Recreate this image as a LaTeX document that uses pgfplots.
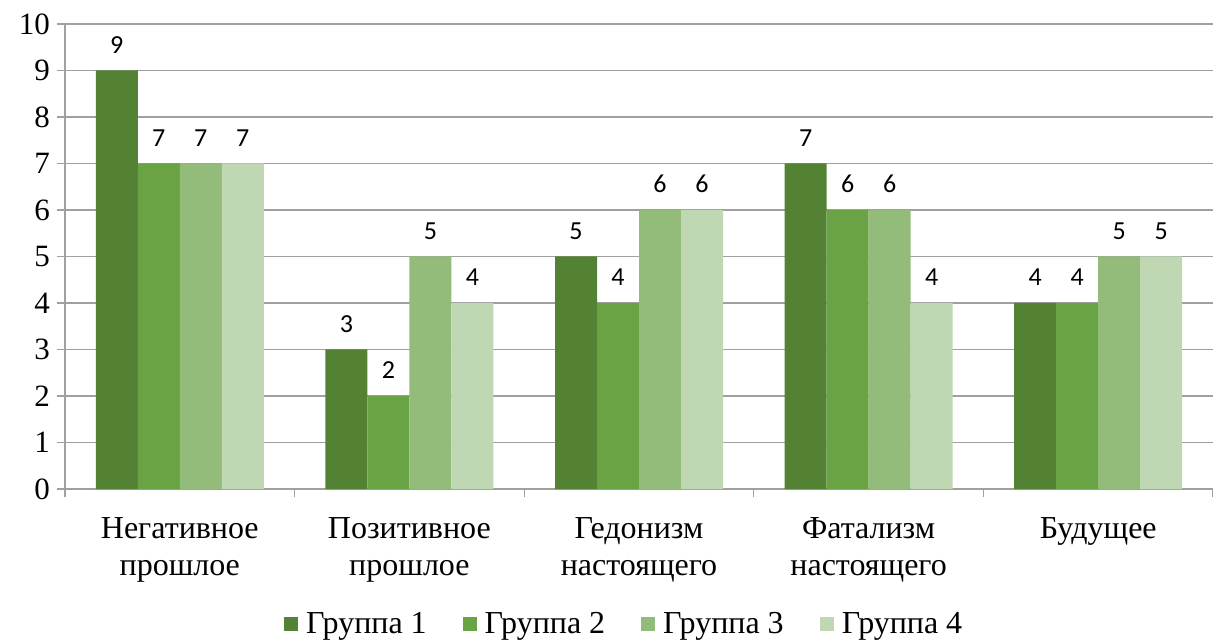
\documentclass[border=0pt]{standalone}
\usepackage{pgfplots}
\pgfplotsset{compat=1.18}
\usepackage{fontspec}
\setmainfont{Liberation Serif}
\newfontfamily\tnr{Liberation Serif}
\newfontfamily\calibri{Carlito}
\definecolor{g1}{HTML}{548235}
\definecolor{g2}{HTML}{6AA344}
\definecolor{g3}{HTML}{93BC7B}
\definecolor{g4}{HTML}{BFD7B3}
\definecolor{gridgray}{HTML}{A0A0A0}
\begin{document}
\begin{tikzpicture}[font=\tnr]
\useasboundingbox (-32.5pt,-76pt) rectangle (574pt,244.5pt);
\begin{axis}[
  scale only axis, width=574pt, height=232.5pt,
  /pgf/number format/assume math mode=true,
  ybar=0pt, bar width=21pt,
  xmin=-0.5, xmax=4.5, ymin=0, ymax=10,
  ytick={0,1,...,10},
  ymajorgrids, grid style={color=gridgray, line width=0.6pt},
  axis x line*=bottom, axis y line*=left,
  axis line style={gridgray, line width=0.6pt},
  tick style={gridgray, line width=0.6pt},
  tick align=outside, major tick length=4pt, minor tick length=4pt,
  xtick={0,1,2,3,4},
  major x tick style={draw=none},
  minor xtick={-0.5,0.5,1.5,2.5,3.5,4.5},
  xticklabels={{Негативное\\прошлое},{Позитивное\\прошлое},{Гедонизм\\настоящего},{Фатализм\\настоящего},{Будущее}},
  xticklabel style={align=center, font=\tnr\fontsize{16}{18.5}\selectfont, yshift=-6.5pt},
  yticklabel style={font=\tnr\fontsize{15.5}{15.5}\selectfont},
  nodes near coords,
  nodes near coords style={font=\calibri\fontsize{13}{13}\selectfont, yshift=5pt, text=black},
  legend columns=-1,
  legend style={at={(0.488,-0.291)}, anchor=center, draw=none,
    font=\tnr\fontsize{16}{16}\selectfont,
    /tikz/every odd column/.append style={column sep=2pt},
    /tikz/every even column/.append style={column sep=16pt}},
  legend image code/.code={\fill[#1] (0pt,-3.5pt) rectangle (7pt,3.5pt);},
]
\addplot[fill=g1, draw=none] coordinates {(0,9) (1,3) (2,5) (3,7) (4,4)};
\addplot[fill=g2, draw=none] coordinates {(0,7) (1,2) (2,4) (3,6) (4,4)};
\addplot[fill=g3, draw=none] coordinates {(0,7) (1,5) (2,6) (3,6) (4,5)};
\addplot[fill=g4, draw=none] coordinates {(0,7) (1,4) (2,6) (3,4) (4,5)};
\legend{Группа 1, Группа 2, Группа 3, Группа 4}
\end{axis}
\end{tikzpicture}
\end{document}
